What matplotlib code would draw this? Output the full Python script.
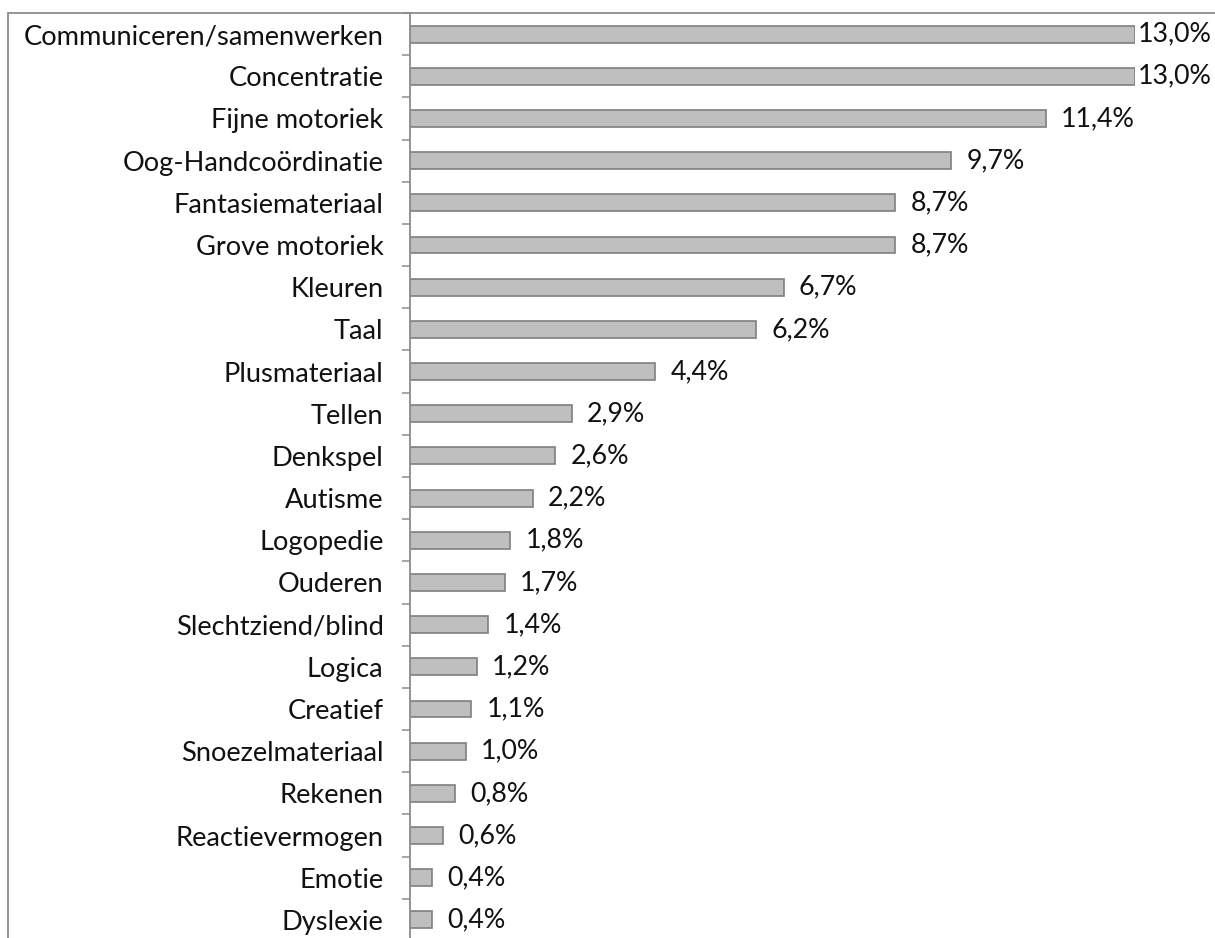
import matplotlib.pyplot as plt
from matplotlib.patches import Rectangle

categorieen = [
    "Communiceren/samenwerken", "Concentratie", "Fijne motoriek",
    "Oog-Handcoördinatie", "Fantasiemateriaal", "Grove motoriek",
    "Kleuren", "Taal", "Plusmateriaal", "Tellen", "Denkspel", "Autisme",
    "Logopedie", "Ouderen", "Slechtziend/blind", "Logica", "Creatief",
    "Snoezelmateriaal", "Rekenen", "Reactievermogen", "Emotie", "Dyslexie",
]
percentages = [13.0, 13.0, 11.4, 9.7, 8.7, 8.7, 6.7, 6.2, 4.4, 2.9, 2.6,
               2.2, 1.8, 1.7, 1.4, 1.2, 1.1, 1.0, 0.8, 0.6, 0.4, 0.4]

plt.rcParams['font.family'] = ['Lato', 'DejaVu Sans']
W, H = 1215, 938
fig = plt.figure(figsize=(W / 100, H / 100), dpi=100)

# kader rond de grafiek (rechts en onder valt buiten beeld)
fig.patches.append(Rectangle((8 / W, -0.1), 1.2, 1 - 13 / H + 0.1,
                             transform=fig.transFigure, fill=False,
                             edgecolor='#8c8c8c', linewidth=1.3))

left, right = 410 / W, 1135 / W
top, bottom = 1 - 13 / H, 1 - 941 / H
ax = fig.add_axes([left, bottom, right - left, top - bottom])

n = len(categorieen)
pos = list(range(n))
ax.barh(pos, percentages, height=0.4, color='#bfbfbf',
        edgecolor='#7f7f7f', linewidth=1.2)
ax.set_xlim(0, max(percentages))
ax.set_ylim(n - 0.5, -0.5)

for p, v in zip(pos, percentages):
    off = 2 if v == max(percentages) else 11
    ax.annotate(f"{v:.1f}%".replace('.', ','), (v, p), xytext=(off, 0),
                textcoords='offset points', va='center', ha='left',
                fontsize=19.3, color='#111111', annotation_clip=False)

for s in ['top', 'right', 'bottom']:
    ax.spines[s].set_visible(False)
ax.spines['left'].set_color('#8c8c8c')
ax.spines['left'].set_linewidth(1.3)
ax.set_xticks([])
ax.set_yticks([p - 0.5 for p in pos] + [n - 0.5])
ax.set_yticklabels([])
ax.tick_params(axis='y', direction='out', length=6, width=1.1, color='#8c8c8c')
ax.set_yticks(pos, minor=True)
ax.set_yticklabels(categorieen, minor=True, fontsize=19.6, color='#111111')
ax.tick_params(axis='y', which='minor', length=0, pad=19)

fig.savefig("out.png", dpi=100)
